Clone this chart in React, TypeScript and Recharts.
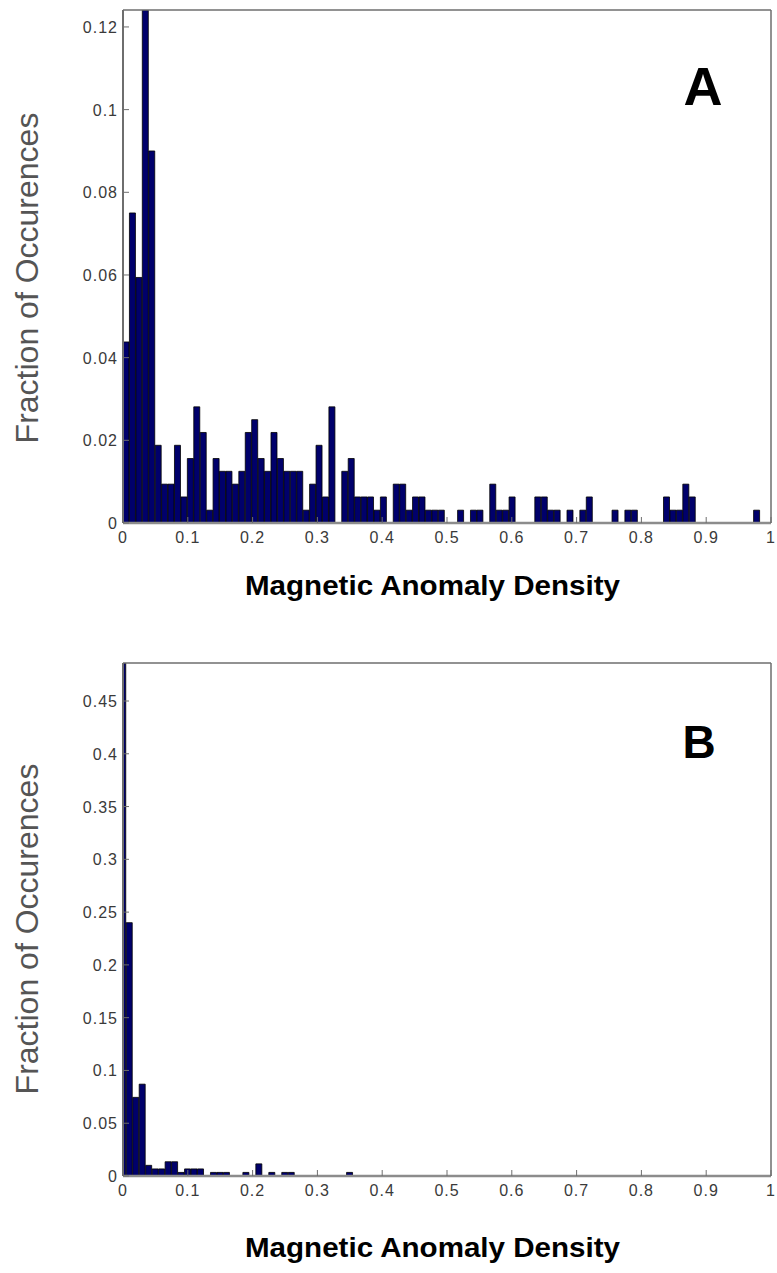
import React from 'react';
import { ComposedChart, Bar, Line, XAxis, YAxis } from 'recharts';

// Panel A: 100 bins, hist range runs 0 .. ~0.993
const topBinWidth = 0.00993;
const topFractions = [
  0.0438, 0.075, 0.0594, 0.1241, 0.09, 0.0188, 0.0094, 0.0094, 0.0188, 0.0063,
  0.0156, 0.0281, 0.0219, 0.0031, 0.0156, 0.0125, 0.0125, 0.0094, 0.0125, 0.0219,
  0.025, 0.0156, 0.0125, 0.0219, 0.0156, 0.0125, 0.0125, 0.0125, 0.0031, 0.0094,
  0.0188, 0.0063, 0.0281, 0, 0.0125, 0.0156, 0.0063, 0.0063, 0.0063, 0.0031,
  0.0063, 0, 0.0094, 0.0094, 0.0031, 0.0063, 0.0063, 0.0031, 0.0031, 0.0031,
  0, 0, 0.0031, 0, 0.0031, 0.0031, 0, 0.0094, 0.0031, 0.0031,
  0.0063, 0, 0, 0, 0.0063, 0.0063, 0.0031, 0.0031, 0, 0.0031,
  0, 0.0031, 0.0063, 0, 0, 0, 0.0031, 0, 0.0031, 0.0031,
  0, 0, 0, 0, 0.0063, 0.0031, 0.0031, 0.0094, 0.0063, 0,
  0, 0, 0, 0, 0, 0, 0, 0, 0.0031, 0,
];

// Panel B: bins centred on 0, 0.01, ... 1 (first and last half clipped)
const bottomBinWidth = 0.01;
const bottomFractions = [
  0.486, 0.24, 0.0745, 0.087, 0.0101, 0.0067, 0.0067, 0.0135, 0.0135, 0.0034,
  0.0067, 0.0067, 0.0067, 0, 0.0034, 0.0034, 0.0034, 0, 0, 0.0034,
  0, 0.0115, 0, 0.0034, 0, 0.0034, 0.0034, 0, 0, 0,
  0, 0, 0, 0, 0, 0.0034, 0, 0, 0, 0,
  0, 0, 0, 0, 0, 0, 0, 0, 0, 0,
  0, 0, 0, 0, 0, 0, 0, 0, 0, 0,
  0, 0, 0, 0, 0, 0, 0, 0, 0, 0,
  0, 0, 0, 0, 0, 0, 0, 0, 0, 0,
  0, 0, 0, 0, 0, 0, 0, 0, 0, 0,
  0, 0, 0, 0, 0, 0, 0, 0, 0, 0,
  0,
];

const xTicks = [0, 0.1, 0.2, 0.3, 0.4, 0.5, 0.6, 0.7, 0.8, 0.9, 1];
const topYTicks = [0, 0.02, 0.04, 0.06, 0.08, 0.1, 0.12];
const bottomYTicks = [0, 0.05, 0.1, 0.15, 0.2, 0.25, 0.3, 0.35, 0.4, 0.45];
const topYMax = 0.1241;
const bottomYMax = 0.486;

const yTitle = 'Fraction of Occurences';
const xTitle = 'Magnetic Anomaly Density';

const FONT = "'Liberation Sans', Arial, sans-serif";
const BAR_FILL = '#00006b';
const AXIS_GRAY = '#6e6e6e';

const topData = topFractions.map((v, i) => ({ x: (i + 0.5) * topBinWidth, value: v }));
const bottomData = bottomFractions.map((v, i) => ({ x: i * bottomBinWidth, value: v }));

const XTick = (props: any) => (
  <text
    x={props.x}
    y={props.y + 12}
    textAnchor="middle"
    fontSize={16}
    letterSpacing={1}
    fill="#3a3a3a"
    fontFamily={FONT}
  >
    {props.payload.value}
  </text>
);

const YTick = (props: any) => (
  <text
    x={props.x}
    y={props.y + 6}
    textAnchor="end"
    fontSize={16}
    letterSpacing={1}
    fill="#3a3a3a"
    fontFamily={FONT}
  >
    {props.payload.value}
  </text>
);

interface PanelProps {
  data: { x: number; value: number }[];
  yMax: number;
  yTicks: number[];
  height: number;
  marginTop: number;
  xAxisHeight: number;
  letter: string;
  letterSize: number;
  letterX: number;
  letterY: number;
  yTitleY: number;
  xTitleY: number;
}

const Panel: React.FC<PanelProps> = (p) => (
  <ComposedChart
    width={777}
    height={p.height}
    data={p.data}
    margin={{ top: p.marginTop, right: 6, bottom: 0, left: 0 }}
    barCategoryGap={0}
    barGap={0}
  >
    <XAxis
      dataKey="x"
      type="number"
      domain={[0, 1]}
      allowDataOverflow
      ticks={xTicks}
      interval={0}
      height={p.xAxisHeight}
      axisLine={{ stroke: '#8c8c8c', strokeWidth: 2.5 }}
      tickLine={{ stroke: AXIS_GRAY }}
      tickSize={-6}
      tickMargin={14}
      tick={<XTick />}
      label={() => (
        <text
          x={432.5}
          y={p.xTitleY}
          textAnchor="middle"
          fontSize={28}
          fontWeight="bold"
          fill="#000"
          fontFamily={FONT}
          textLength={375}
          lengthAdjust="spacingAndGlyphs"
        >
          {xTitle}
        </text>
      )}
    />
    {/* top edge of the box: inward ticks, no labels */}
    <XAxis
      xAxisId="top"
      dataKey="x"
      orientation="top"
      mirror
      type="number"
      domain={[0, 1]}
      allowDataOverflow
      ticks={xTicks}
      interval={0}
      height={2}
      axisLine={{ stroke: AXIS_GRAY, strokeWidth: 1.5 }}
      tickLine={{ stroke: AXIS_GRAY }}
      tickSize={6}
      tick={false}
      label={() => (
        <text
          x={p.letterX}
          y={p.letterY}
          textAnchor="middle"
          fontSize={p.letterSize}
          fontWeight="bold"
          fill="#000"
          fontFamily={FONT}
        >
          {p.letter}
        </text>
      )}
    />
    <YAxis
      type="number"
      domain={[0, p.yMax]}
      allowDataOverflow
      ticks={p.yTicks}
      interval={0}
      width={123}
      axisLine={{ stroke: AXIS_GRAY, strokeWidth: 2 }}
      tickLine={{ stroke: AXIS_GRAY }}
      tickSize={-6}
      tickMargin={11}
      tick={<YTick />}
      label={() => (
        <text
          x={38}
          y={p.yTitleY}
          transform={`rotate(-90 38 ${p.yTitleY})`}
          textAnchor="middle"
          fontSize={32}
          fill="#555"
          fontFamily={FONT}
        >
          {yTitle}
        </text>
      )}
    />
    {/* right edge of the box */}
    <YAxis
      yAxisId="right"
      orientation="right"
      mirror
      type="number"
      domain={[0, p.yMax]}
      allowDataOverflow
      ticks={p.yTicks}
      interval={0}
      width={2}
      axisLine={{ stroke: AXIS_GRAY, strokeWidth: 1.5 }}
      tickLine={{ stroke: AXIS_GRAY }}
      tickSize={6}
      tick={false}
    />
    <Bar
      dataKey="value"
      fill={BAR_FILL}
      stroke="#000"
      strokeWidth={0.8}
      isAnimationActive={false}
    />
    {/* invisible series tied to the top/right box axes */}
    <Line
      xAxisId="top"
      yAxisId="right"
      dataKey="value"
      stroke="none"
      dot={false}
      activeDot={false}
      legendType="none"
      isAnimationActive={false}
    />
  </ComposedChart>
);

export default function App() {
  return (
    <div
      style={{
        position: 'absolute',
        left: 0,
        top: 0,
        width: 777,
        height: 1273,
        background: '#fff',
        overflow: 'hidden',
      }}
    >
      <div style={{ position: 'absolute', left: 0, top: 0 }}>
        <Panel
          data={topData}
          yMax={topYMax}
          yTicks={topYTicks}
          height={640}
          marginTop={10}
          xAxisHeight={117}
          letter="A"
          letterSize={54}
          letterX={703}
          letterY={105}
          yTitleY={278}
          xTitleY={595}
        />
      </div>
      <div style={{ position: 'absolute', left: 0, top: 650 }}>
        <Panel
          data={bottomData}
          yMax={bottomYMax}
          yTicks={bottomYTicks}
          height={623}
          marginTop={13}
          xAxisHeight={97}
          letter="B"
          letterSize={46}
          letterX={699}
          letterY={108}
          yTitleY={279}
          xTitleY={607}
        />
      </div>
    </div>
  );
}
